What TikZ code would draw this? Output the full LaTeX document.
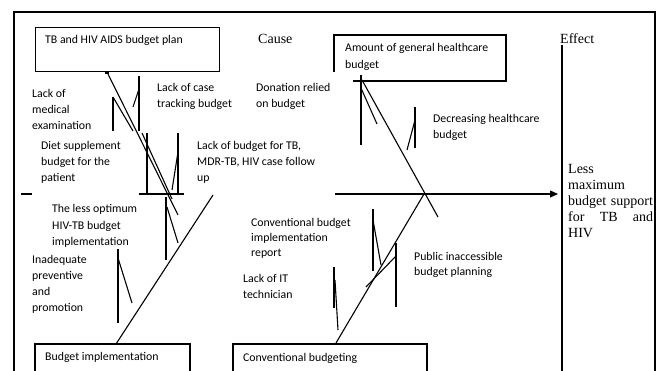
\documentclass[tikz,border=0pt]{standalone}
\usepackage{fontspec}
\setmainfont{Liberation Serif}
\newfontfamily\labfont{Carlito}
\usetikzlibrary{arrows.meta}
\begin{document}
\begin{tikzpicture}[x=1pt,y=-1pt,
  ln/.style={line width=1.1pt},
  frame/.style={line width=1.7pt},
  lbl/.style={font=\labfont\fontsize{11.8}{16}\selectfont, align=left, anchor=base west, inner sep=0pt},
  lblb/.style={font=\labfont\fontsize{11.8}{15}\selectfont, align=left, anchor=base west, inner sep=0pt},
  serif/.style={font=\fontsize{14}{16}\selectfont, align=left, anchor=base west, inner sep=0pt},
  boxr/.style={draw, line width=1.1pt, anchor=north west, inner sep=0pt}]
\useasboundingbox (0,0) rectangle (659,371);

% frame
\draw[frame] (14,371) -- (14,12) -- (655,12) -- (655,371);

% boxes
\node[boxr, minimum width=184pt, minimum height=44pt] (plan) at (35,27) {};
\node[lbl] (plant) at (45,44) {TB and HIV AIDS budget plan};
\draw[ln] (334,72) -- (334,35) -- (506,35) -- (506,81) -- (353,81);
\node[lblb, font=\labfont\fontsize{11.8}{17}\selectfont] (amount) at (345,69) {Amount of general healthcare\\budget};
\draw[ln] (35,371) -- (35,344) -- (190,344) -- (190,371);
\node[lbl] (impl) at (45,361) {Budget implementation};
\draw[ln] (233,371) -- (233,344) -- (427,344) -- (427,371);
\node[lbl] (conv) at (243,362) {Conventional budgeting};

% cause / effect
\node[serif] (cause) at (258,44) {Cause};
\node[serif] (effect) at (560,44) {Effect};
\node[serif, text width=85pt] (res) at (568,174) {Less\\maximum\\budget support\\for\hfill TB\hfill and\\HIV};

% spine and effect line
\coordinate (sp0) at (335,194);
\coordinate (head) at (424,194);
\coordinate (arr) at (558,194);
\draw[ln, -{Triangle[length=8pt,width=7pt]}] (sp0) -- (arr);
\draw[ln] (562,45) -- (562,371);
\draw[ln] (21,194) -- (32,194);

% upper-left branch
\coordinate (ul0) at (107,72);
\coordinate (ul1) at (178,215);
\fill (ul0) ++(-2,-1) rectangle ++(4,3);
\draw[ln] (ul0) -- (ul1);
\draw[ln] (113,97) -- (133,131);
\draw[ln] (142,133) -- (172,199);
\draw[ln] (113,97) -- (113,131);
\draw[ln] (139,76) -- (139,131);
\draw[ln] (139,89) -- (133,107);
\draw[ln] (147,133) -- (147,194);
\draw[ln] (178,133) -- (178,194);
\draw[ln] (178,152) -- (172,190);
\draw[ln] (139,194) -- (184,194);
\draw[ln] (166,197) -- (166,260);
\draw[ln] (167,207) -- (178,243);

% lower-left branch
\coordinate (ll0) at (116,344);
\coordinate (ll1) at (213,195);
\draw[ln] (ll0) -- (ll1);
\draw[ln] (118,249) -- (118,323);
\draw[ln] (118,258) -- (132,303);

% upper-right branch
\coordinate (ur0) at (362,80);
\coordinate (ur1) at (438,217);
\draw[ln] (ur0) -- (ur1);
\draw[ln] (361,75) -- (361,145);
\draw[ln] (361,88) -- (377,124);
\draw[ln] (415,107) -- (415,148);
\draw[ln] (415,120) -- (407,150);

% lower-right branch
\coordinate (lr0) at (336,343);
\draw[ln] (lr0) -- (head);
\draw[ln] (373,209) -- (373,271);
\draw[ln] (373,220) -- (381,265);
\draw[ln] (396,243) -- (396,307);
\draw[ln] (396,256) -- (366,287);
\draw[ln] (334,267) -- (334,308);
\draw[ln] (335,280) -- (338,330);

% cause labels (anchor = baseline of last line)
\node[lbl] (medex) at (32,130) {Lack of\\medical\\examination};
\node[lbl] (track) at (157,108) {Lack of case\\tracking budget};
\node[lbl] (donation) at (256,108) {Donation relied\\on budget};
\node[lbl] (diet) at (41,182) {Diet supplement\\budget for the\\patient};
\node[lbl] (follow) at (197,182) {Lack of budget for TB,\\MDR-TB, HIV case follow\\up};
\node[lbl] (decr) at (433,139) {Decreasing healthcare\\budget};
\node[lbl, font=\labfont\fontsize{11.8}{16.5}\selectfont] (lessopt) at (52,246) {The less optimum\\HIV-TB budget\\implementation};
\node[lbl] (inadeq) at (32,312) {Inadequate\\preventive\\and\\promotion};
\node[lblb] (report) at (251,257) {Conventional budget\\implementation\\report};
\node[lbl] (itech) at (243,299) {Lack of IT\\technician};
\node[lblb] (public) at (414,276) {Public inaccessible\\budget planning};
\end{tikzpicture}
\end{document}
